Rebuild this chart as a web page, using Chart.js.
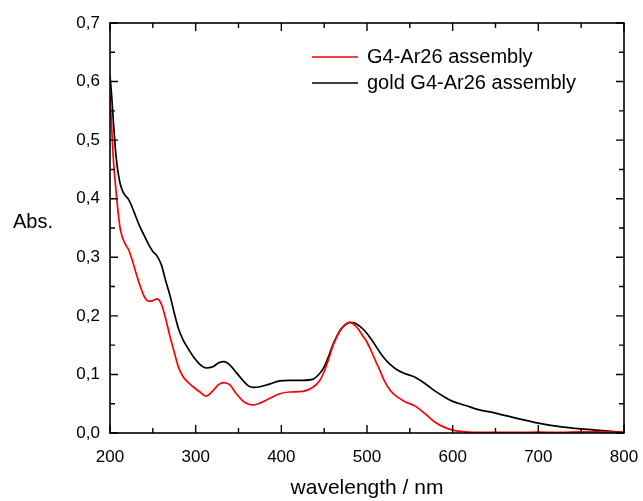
<!DOCTYPE html>
<html lang="en">
<head>
  <meta charset="UTF-8">
  <title>UV-Vis spectra</title>
  <script src="https://cdn.jsdelivr.net/npm/chart.js"></script>
  <style>
    html, body { margin: 0; padding: 0; background: #fff; }
    #wrap { width: 643px; height: 501px; }
  </style>
</head>
<body>
  <div id="wrap"><canvas id="spectrum" width="643" height="501"></canvas></div>

  <script>
    // wavelength grid (nm) shared by both traces
    const wavelengths = [200, 202, 204, 206, 208, 210, 212, 215, 218, 222, 226, 230, 235, 240, 245, 250, 255, 260, 265, 270,
      275, 280, 285, 290, 297, 305, 312, 320, 327, 333, 340, 347, 355, 362, 368, 375, 385, 398, 410, 425,
      437, 445, 450, 455, 460, 465, 470, 475, 480, 485, 490, 495, 500, 505, 510, 515, 520, 527, 535, 545,
      555, 562, 570, 580, 590, 600, 615, 630, 650, 675, 700, 725, 750, 775, 800];

    const absAssembly = [0.575, 0.52, 0.466, 0.43, 0.398, 0.37, 0.348, 0.332, 0.322, 0.312, 0.295, 0.275, 0.252, 0.233, 0.225, 0.226, 0.229, 0.22, 0.195, 0.165,
      0.138, 0.112, 0.097, 0.088, 0.079, 0.07, 0.063, 0.072, 0.083, 0.086, 0.082, 0.068, 0.055, 0.049, 0.048, 0.051, 0.058, 0.067, 0.07, 0.071,
      0.078, 0.09, 0.105, 0.125, 0.148, 0.165, 0.178, 0.186, 0.189, 0.185, 0.177, 0.166, 0.155, 0.14, 0.123, 0.107, 0.09, 0.073, 0.062, 0.053,
      0.047, 0.04, 0.03, 0.018, 0.01, 0.005, 0.002, 0.001, 0.001, 0.001, 0.0015, 0.001, 0.002, 0.002, 0.001];

    const absGoldAssembly = [0.61, 0.575, 0.53, 0.49, 0.46, 0.44, 0.425, 0.412, 0.405, 0.398, 0.385, 0.37, 0.352, 0.337, 0.322, 0.31, 0.302, 0.287, 0.26, 0.235,
      0.205, 0.178, 0.16, 0.147, 0.131, 0.117, 0.111, 0.113, 0.12, 0.122, 0.116, 0.104, 0.09, 0.08, 0.078, 0.079, 0.083, 0.089, 0.09, 0.09,
      0.092, 0.102, 0.113, 0.13, 0.15, 0.166, 0.178, 0.185, 0.189, 0.188, 0.184, 0.178, 0.17, 0.16, 0.149, 0.138, 0.128, 0.117, 0.108, 0.101,
      0.096, 0.09, 0.082, 0.071, 0.062, 0.054, 0.047, 0.04, 0.034, 0.025, 0.017, 0.011, 0.007, 0.004, 0.001];

    const seriesNames = ['G4-Ar26 assembly', 'gold G4-Ar26 assembly'];
    const seriesColors = ['#ff0000', '#000000'];

    const FONT = "'Liberation Sans', Arial, sans-serif";
    const fmt = v => v.toFixed(1).replace('.', ',');

    // frame, inward ticks on all four sides, legend and the horizontal "Abs." label
    const framePlugin = {
      id: 'frame',
      afterDraw(chart) {
        const { ctx, chartArea: a, scales: { x, y } } = chart;
        ctx.save();
        ctx.strokeStyle = '#000';
        ctx.lineWidth = 1.6;
        ctx.strokeRect(a.left, a.top, a.right - a.left, a.bottom - a.top);

        ctx.lineWidth = 1.4;
        ctx.beginPath();
        for (let v = 200; v <= 800; v += 50) {
          const px = x.getPixelForValue(v);
          const len = v % 100 === 0 ? 8 : 5;
          ctx.moveTo(px, a.bottom); ctx.lineTo(px, a.bottom - len);
          ctx.moveTo(px, a.top); ctx.lineTo(px, a.top + len);
        }
        for (let i = 0; i <= 14; i++) {
          const py = y.getPixelForValue(i * 0.05);
          const len = i % 2 === 0 ? 8 : 5;
          ctx.moveTo(a.left, py); ctx.lineTo(a.left + len, py);
          ctx.moveTo(a.right, py); ctx.lineTo(a.right - len, py);
        }
        ctx.stroke();

        // legend, in series order
        ctx.font = '20px ' + FONT;
        ctx.textBaseline = 'middle';
        ctx.fillStyle = '#000';
        seriesNames.forEach((name, i) => {
          const ly = 57 + i * 26;
          ctx.strokeStyle = seriesColors[i];
          ctx.lineWidth = 1.6;
          ctx.beginPath();
          ctx.moveTo(312, ly); ctx.lineTo(358, ly);
          ctx.stroke();
          ctx.fillText(name, 367, ly);
        });

        // y title, horizontal
        ctx.fillText('Abs.', 13, 222);
        ctx.restore();
      }
    };

    new Chart(document.getElementById('spectrum'), {
      type: 'line',
      data: {
        labels: wavelengths,
        datasets: [absAssembly, absGoldAssembly].map((vals, i) => ({
          label: seriesNames[i],
          data: vals.map((v, k) => ({ x: wavelengths[k], y: v })),
          borderColor: seriesColors[i],
          borderWidth: 1.7,
          pointRadius: 0,
          tension: 0.4,
          cubicInterpolationMode: 'monotone'
        }))
      },
      options: {
        responsive: false,
        animation: false,
        layout: { padding: { top: 23, right: 19, left: 0, bottom: 0 } },
        plugins: { legend: { display: false }, tooltip: { enabled: false } },
        scales: {
          x: {
            type: 'linear', min: 200, max: 800,
            grid: { display: false, drawTicks: false },
            border: { display: false },
            ticks: { stepSize: 100, padding: 14, color: '#000', font: { family: FONT, size: 17 } },
            title: { display: true, text: 'wavelength / nm', color: '#000', padding: { top: 0, bottom: 0 }, font: { family: FONT, size: 21 } },
            afterFit: s => { s.height = 68; s.paddingLeft = 0; s.paddingRight = 0; }
          },
          y: {
            min: 0, max: 0.7,
            grid: { display: false, drawTicks: false },
            border: { display: false },
            ticks: { stepSize: 0.1, padding: 10, color: '#000', font: { family: FONT, size: 17 }, callback: fmt },
            afterFit: s => { s.width = 110; s.paddingTop = 0; s.paddingBottom = 0; }
          }
        }
      },
      plugins: [framePlugin]
    });
  </script>
</body>
</html>
